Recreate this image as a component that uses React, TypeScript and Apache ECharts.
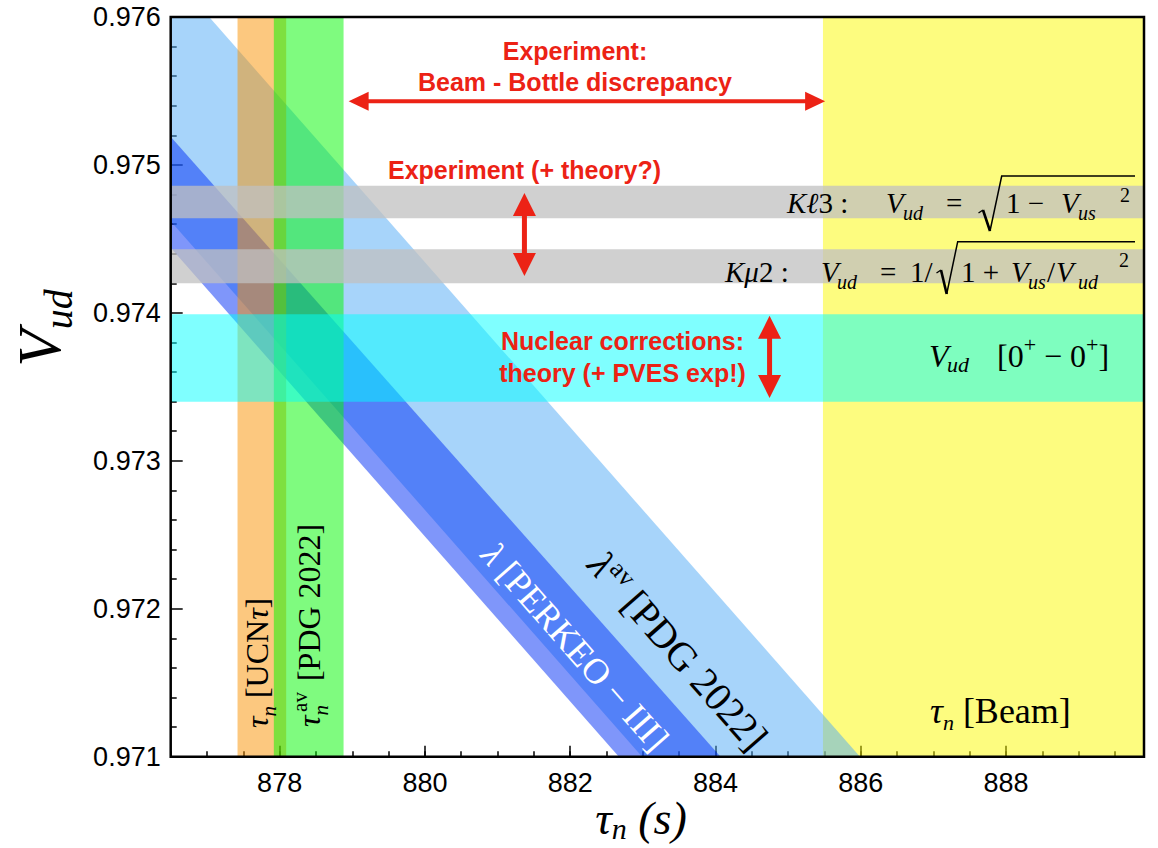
import React, { useEffect, useRef } from "react";
import * as echarts from "echarts";

// ---------- axes ----------
const X_MIN = 876.5;
const X_MAX = 889.9;
const Y_MIN = 0.971;
const Y_MAX = 0.976;
const X_MAJOR_TICKS = [878, 880, 882, 884, 886, 888];
const X_MINOR_STEP = 0.5;
const Y_STEP = 0.001;

// ---------- vertical bands: neutron lifetime tau_n (s) ----------
const tauUCNtau = [877.42, 878.09];
const tauPDG2022 = [877.92, 878.88];
const tauBeam = [885.48, 889.9];

// ---------- horizontal bands: Vud ----------
const vudKl3 = [0.97464, 0.97486];
const vudKmu2 = [0.9742, 0.97443];
const vudSuperallowed = [0.9734, 0.97399];

// ---------- diagonal bands from lambda (vertices [tau_n, Vud]) ----------
const lambdaPDGBand = [
  [876.5, 0.976],
  [877.03, 0.976],
  [885.99, 0.971],
  [882.99, 0.971],
  [876.5, 0.97462],
];
const lambdaPERKEOBand = [
  [876.5, 0.97519],
  [884.07, 0.971],
  [882.67, 0.971],
  [876.5, 0.97444],
];

// ---------- annotation arrows [tau1, Vud1, tau2, Vud2] ----------
const annotationArrows = [
  [878.95, 0.97543, 885.51, 0.97543],
  [881.37, 0.97481, 881.37, 0.97425],
  [884.745, 0.97398, 884.745, 0.973425],
];

// ---------- layout / style ----------
const W = 1158;
const H = 848;
const GRID = { left: 170.7, top: 17, width: 973.3, height: 739.7 };
const SERIF = "'Liberation Serif','Times New Roman',Times,serif";
const SANS = "'Liberation Sans',Arial,Helvetica,sans-serif";
const RED = "#ec2215";

const vBand = (r: number[]) => [
  [r[0], Y_MIN],
  [r[1], Y_MIN],
  [r[1], Y_MAX],
  [r[0], Y_MAX],
];
const hBand = (r: number[]) => [
  [X_MIN, r[0]],
  [X_MAX, r[0]],
  [X_MAX, r[1]],
  [X_MIN, r[1]],
];

const polySeries = (name: string, pts: number[][], fill: string) => ({
  type: "custom",
  name,
  coordinateSystem: "cartesian2d",
  xAxisIndex: 0,
  yAxisIndex: 0,
  silent: true,
  clip: true,
  data: pts,
  renderItem: (params: any, api: any) => {
    if (params.dataIndex !== 0) return null;
    return {
      type: "polygon",
      shape: { points: pts.map((p) => api.coord(p)) },
      style: { fill },
    };
  },
});

const arrowSeries = {
  type: "custom",
  name: "arrows",
  coordinateSystem: "cartesian2d",
  xAxisIndex: 0,
  yAxisIndex: 0,
  silent: true,
  data: annotationArrows,
  renderItem: (params: any, api: any) => {
    const p1 = api.coord([api.value(0), api.value(1)]);
    const p2 = api.coord([api.value(2), api.value(3)]);
    const dx = p2[0] - p1[0];
    const dy = p2[1] - p1[1];
    const len = Math.sqrt(dx * dx + dy * dy);
    const ux = dx / len;
    const uy = dy / len;
    const nx = -uy;
    const ny = ux;
    const horiz = Math.abs(dx) > Math.abs(dy);
    const L = horiz ? 20 : 23;
    const hw = horiz ? 9.5 : 11.5;
    const sw = horiz ? 4 : 5;
    const a = [p1[0] + ux * L, p1[1] + uy * L];
    const b = [p2[0] - ux * L, p2[1] - uy * L];
    return {
      type: "group",
      children: [
        {
          type: "line",
          shape: { x1: a[0] - ux * 2, y1: a[1] - uy * 2, x2: b[0] + ux * 2, y2: b[1] + uy * 2 },
          style: { stroke: RED, lineWidth: sw },
        },
        {
          type: "polygon",
          shape: { points: [p1, [a[0] + nx * hw, a[1] + ny * hw], [a[0] - nx * hw, a[1] - ny * hw]] },
          style: { fill: RED },
        },
        {
          type: "polygon",
          shape: { points: [p2, [b[0] + nx * hw, b[1] + ny * hw], [b[0] - nx * hw, b[1] - ny * hw]] },
          style: { fill: RED },
        },
      ],
    };
  },
};

type Opt = { italic?: boolean; align?: string; color?: string; rot?: number; bold?: boolean; family?: string };

const txt = (x: number, y: number, text: string, size: number, o: Opt = {}) => ({
  type: "text",
  x,
  y,
  z: 100,
  silent: true,
  rotation: o.rot || 0,
  style: {
    text,
    fontSize: size,
    fontFamily: o.family || SERIF,
    fontStyle: o.italic ? "italic" : "normal",
    fontWeight: o.bold ? "bold" : "normal",
    fill: o.color || "#000",
    align: o.align || "left",
    verticalAlign: "middle",
  },
});

const richTxt = (x: number, y: number, text: string, size: number, sub: number, off: number, o: Opt = {}) => {
  const c = o.color || "#000";
  const LH = Math.max(sub + 2 * off, 1);
  return {
    type: "text",
    x,
    y,
    z: 100,
    silent: true,
    rotation: o.rot || 0,
    style: {
      text,
      align: o.align || "left",
      verticalAlign: "middle",
      fill: c,
      fontSize: size,
      fontFamily: SERIF,
      rich: {
        i: { fontFamily: SERIF, fontStyle: "italic", fontSize: size, lineHeight: LH, fill: c },
        r: { fontFamily: SERIF, fontSize: size, lineHeight: LH, fill: c },
        sb: { fontFamily: SERIF, fontStyle: "italic", fontSize: sub, lineHeight: sub, verticalAlign: "bottom", fill: c },
        sp: { fontFamily: SERIF, fontSize: sub, lineHeight: sub, verticalAlign: "top", fill: c },
      },
    },
  };
};

const poly = (points: number[][], lw: number) => ({
  type: "polyline",
  z: 100,
  silent: true,
  shape: { points },
  style: { stroke: "#000", lineWidth: lw, fill: "none" },
});

const NB = "\u00a0";
const HALF_PI = Math.PI / 2;
const DIAG = -0.85;

const graphics = [
  // frame
  {
    type: "rect",
    z: 50,
    silent: true,
    shape: { x: GRID.left, y: GRID.top, width: GRID.width, height: GRID.height },
    style: { fill: "none", stroke: "#000", lineWidth: 2.5 },
  },
  // red annotations
  txt(575, 50.6, "Experiment:", 25, { family: SANS, bold: true, color: RED, align: "center" }),
  txt(575, 82, "Beam - Bottle discrepancy", 25, { family: SANS, bold: true, color: RED, align: "center" }),
  txt(524.5, 170.3, "Experiment (+ theory?)", 25, { family: SANS, bold: true, color: RED, align: "center" }),
  txt(622.5, 341.3, "Nuclear corrections:", 25, { family: SANS, bold: true, color: RED, align: "center" }),
  txt(622.5, 373, "theory (+ PVES exp!)", 25, { family: SANS, bold: true, color: RED, align: "center" }),

  // K l3 formula
  richTxt(787, 203, "{i|Kℓ}{r|3 :}", 29, 20, 5),
  txt(886, 203, "V", 29, { italic: true }),
  txt(903, 213, "ud", 20, { italic: true }),
  txt(946, 203, "=", 29),
  poly([[978.5, 213], [983, 210]], 1.4),
  poly([[983, 210], [990, 231]], 2.6),
  poly([[990, 231], [1001.7, 176], [1135, 176]], 1.5),
  txt(1006, 203, "1 −", 29),
  txt(1061, 203, "V", 29, { italic: true }),
  txt(1078, 213, "us", 20, { italic: true }),
  txt(1120, 195, "2", 20),

  // K mu2 formula
  richTxt(725, 272, "{i|Kμ}{r|2 :}", 29, 20, 5),
  txt(821, 272, "V", 29, { italic: true }),
  txt(837, 281.5, "ud", 20, { italic: true }),
  txt(880, 272, "=", 29),
  txt(910, 272, "1/", 29),
  poly([[936.5, 273], [941, 270]], 1.4),
  poly([[941, 270], [946.7, 294]], 2.6),
  poly([[946.7, 294], [957.7, 241.7], [1135, 241.7]], 1.5),
  txt(961, 272, "1 +", 29),
  txt(1011, 272, "V", 29, { italic: true }),
  txt(1028, 281.5, "us", 20, { italic: true }),
  txt(1047, 272, "/", 29),
  txt(1056, 272, "V", 29, { italic: true }),
  txt(1078, 281.5, "ud", 20, { italic: true }),
  txt(1119, 260, "2", 20),

  // superallowed
  txt(929, 355.8, "V", 32, { italic: true }),
  txt(947, 364.5, "ud", 22, { italic: true }),
  richTxt(997, 355.8, "{r|[0}{sp|+}{r|" + NB + "−" + NB + "0}{sp|+}{r|]}", 32, 22, 11),

  // vertical band labels
  richTxt(257, 728, "{i|τ}{sb|n}{r|" + NB + "[UCN}{i|τ}{r|]}", 32, 21, 12, { rot: HALF_PI }),
  richTxt(309, 727, "{i|τ}{sb|n}{r|" + NB + NB + NB + "[PDG 2022]}", 32, 21, 12, { rot: HALF_PI }),
  txt(300, 702, "av", 21, { rot: HALF_PI, align: "center" }),
  richTxt(930, 710.5, "{i|τ}{sb|n}{r|" + NB + "[Beam]}", 36, 22, 12),

  // diagonal labels
  richTxt(575, 647, "{i|λ}{r|" + NB + "[PERKEO − III]}", 36, 20, 8, { rot: DIAG, color: "#fff", align: "center" }),
  richTxt(678, 651, "{i|λ}{sp|av}{r|" + NB + "[PDG 2022]}", 40, 26, 10, { rot: DIAG, align: "center" }),

  // axis titles
  richTxt(39, 328, "{i|V}{sb|ud}", 61, 40, 19.4, { rot: HALF_PI, align: "center" }),
  richTxt(641, 818, "{i|τ}{sb|n}{i|" + NB + "(s)}", 46, 30, 10, { align: "center" }),
];

const tickStyle = { color: "#000", width: 1.5 };

const option = {
  animation: false,
  backgroundColor: "#fff",
  grid: {
    left: GRID.left,
    top: GRID.top,
    right: W - GRID.left - GRID.width,
    bottom: H - GRID.top - GRID.height,
    containLabel: false,
    outerBoundsMode: "none",
  },
  xAxis: [
    {
      type: "value",
      position: "bottom",
      min: X_MIN,
      max: X_MAX,
      interval: X_MINOR_STEP,
      axisLine: { show: false, onZero: false },
      axisTick: { show: true, inside: true, length: 5.5, lineStyle: tickStyle },
      axisLabel: { show: false },
      splitLine: { show: false },
    },
    {
      type: "value",
      position: "bottom",
      min: X_MIN,
      max: X_MAX,
      axisLine: { show: false, onZero: false },
      axisTick: { show: true, inside: true, length: 11, customValues: X_MAJOR_TICKS, lineStyle: tickStyle },
      axisLabel: {
        show: true,
        customValues: X_MAJOR_TICKS,
        margin: 13,
        fontSize: 27,
        fontFamily: SANS,
        color: "#000",
        formatter: (v: number) => String(Math.round(v)),
      },
      splitLine: { show: false },
    },
  ],
  yAxis: [
    {
      type: "value",
      position: "left",
      min: Y_MIN,
      max: Y_MAX,
      interval: Y_STEP,
      axisLine: { show: false, onZero: false },
      axisTick: { show: true, inside: true, length: 12, lineStyle: tickStyle },
      minorTick: { show: true, splitNumber: 5, length: 6, lineStyle: tickStyle },
      axisLabel: {
        show: true,
        margin: 10,
        fontSize: 27,
        fontFamily: SANS,
        color: "#000",
        showMinLabel: true,
        showMaxLabel: true,
        formatter: (v: number) => v.toFixed(3),
      },
      splitLine: { show: false },
      minorSplitLine: { show: false },
    },
  ],
  series: [
    polySeries("tau beam", vBand(tauBeam), "rgba(252,250,0,0.5)"),
    polySeries("lambda PDG", lambdaPDGBand, "rgba(80,170,245,0.5)"),
    polySeries("lambda PERKEO", lambdaPERKEOBand, "rgba(0,46,245,0.5)"),
    polySeries("tau UCNtau", vBand(tauUCNtau), "rgba(250,145,0,0.5)"),
    polySeries("tau PDG", vBand(tauPDG2022), "rgba(0,248,0,0.5)"),
    polySeries("Kl3", hBand(vudKl3), "rgba(192,192,192,0.75)"),
    polySeries("Kmu2", hBand(vudKmu2), "rgba(192,192,192,0.75)"),
    polySeries("superallowed", hBand(vudSuperallowed), "rgba(0,255,255,0.5)"),
    arrowSeries,
  ],
  graphic: graphics,
};

export default function App() {
  const ref = useRef<HTMLDivElement>(null);
  useEffect(() => {
    const chart = echarts.init(ref.current as HTMLDivElement, undefined, { renderer: "svg" });
    chart.setOption(option as any);
    return () => {
      chart.dispose();
    };
  }, []);
  return (
    <div
      ref={ref}
      style={{ position: "fixed", left: 0, top: 0, width: W, height: H, background: "#fff" }}
    />
  );
}
